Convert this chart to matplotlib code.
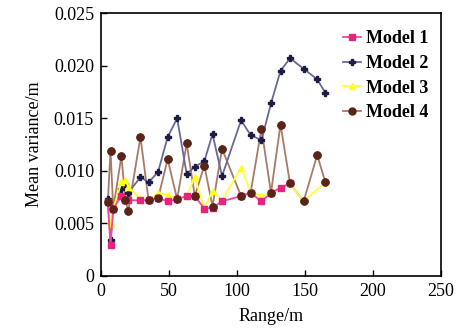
import matplotlib
matplotlib.use("Agg")
import matplotlib.pyplot as plt

plt.rcParams['font.family'] = ['Liberation Serif', 'DejaVu Serif']

# data
x1 = [5, 7, 9, 15, 18, 20, 29, 35, 42, 49, 56, 63, 69, 76, 82, 89, 103, 110, 118, 125, 132, 139]
y1 = [0.0070, 0.0029, 0.0064, 0.0076, 0.0072, 0.0072, 0.0072, 0.0072, 0.0074, 0.0071, 0.0073,
      0.0076, 0.0076, 0.0064, 0.0065, 0.0071, 0.0076, 0.0079, 0.0071, 0.0079, 0.0084, 0.0088]

x2 = [5, 7, 9, 15, 18, 20, 29, 35, 42, 49, 56, 63, 69, 76, 82, 89, 103, 110, 118, 125, 132,
      139, 149, 159, 165]
y2 = [0.0073, 0.0034, 0.0065, 0.0083, 0.0087, 0.0079, 0.0094, 0.0089, 0.0099, 0.0132, 0.0150,
      0.0097, 0.0104, 0.0109, 0.0135, 0.0095, 0.0148, 0.0134, 0.0129, 0.0164, 0.0195, 0.0207,
      0.0197, 0.0187, 0.0174]

x3 = [5, 7, 9, 15, 18, 20, 29, 35, 42, 49, 56, 63, 69, 76, 82, 89, 103, 110, 118, 125, 132,
      139, 149, 165]
y3 = [0.0070, 0.0049, 0.0064, 0.0089, 0.0091, 0.0085, 0.0073, 0.0072, 0.0079, 0.0077, 0.0073,
      0.0076, 0.0094, 0.0064, 0.0081, 0.0072, 0.0103, 0.0080, 0.0076, 0.0079, 0.0084, 0.0088,
      0.0071, 0.0089]

x4 = [5, 7, 9, 15, 18, 20, 29, 35, 42, 49, 56, 63, 69, 76, 82, 89, 103, 110, 118, 125, 132,
      139, 149, 159, 165]
y4 = [0.0070, 0.0119, 0.0064, 0.0114, 0.0072, 0.0062, 0.0132, 0.0072, 0.0074, 0.0111, 0.0073,
      0.0126, 0.0076, 0.0105, 0.0066, 0.0121, 0.0076, 0.0079, 0.0140, 0.0079, 0.0144, 0.0088,
      0.0071, 0.0115, 0.0089]

fig = plt.figure(figsize=(4.62, 3.34), dpi=100)
ax = fig.add_axes([0.2186, 0.1737, 0.7359, 0.7873])

ax.plot(x4, y4, color='#a87a68', lw=1.3, marker='o', ms=5, mfc='#5a2418', mec='#5a2418',
        label='Model 4', zorder=2)
ax.plot(x2, y2, color='#66699a', lw=1.3, marker='P', ms=5, mfc='#1c1c45', mec='#1c1c45',
        label='Model 2', zorder=3)
ax.plot(x3, y3, color='#ffff40', lw=1.3, marker='^', ms=5, mfc='#ffff20', mec='#ffff20',
        label='Model 3', zorder=4)
ax.plot(x1, y1, color='#f0489a', lw=1.3, marker='s', ms=4.5, mfc='#e8237f', mec='#e8237f',
        label='Model 1', zorder=5)
# brown markers drawn on top again, as in the reference
ax.plot(x4, y4, ls='none', marker='o', ms=5, mfc='#5a2418', mec='#5a2418', zorder=6)

ax.set_xlim(0, 250)
ax.set_ylim(0, 0.025)
ax.set_xticks([0, 50, 100, 150, 200, 250])
ax.set_yticks([0, 0.005, 0.010, 0.015, 0.020, 0.025])
ax.set_yticklabels(['0', '0.005', '0.010', '0.015', '0.020', '0.025'])
ax.tick_params(direction='in', length=4, width=1, labelsize=13, pad=5)
for s in ax.spines.values():
    s.set_linewidth(1.2)

ax.set_xlabel('Range/m', fontsize=13, labelpad=6)
ax.set_ylabel('Mean variance/m', fontsize=13, labelpad=8)

h, l = ax.get_legend_handles_labels()
order = [3, 1, 2, 0]
ax.legend([h[i] for i in order], [l[i] for i in order], loc='upper left',
          bbox_to_anchor=(0.68, 0.975), frameon=False, handlelength=1.0,
          handletextpad=0.25, labelspacing=0.42, borderaxespad=0.2,
          prop={'size': 13, 'weight': 'bold'})

fig.savefig('out.png', dpi=100)
